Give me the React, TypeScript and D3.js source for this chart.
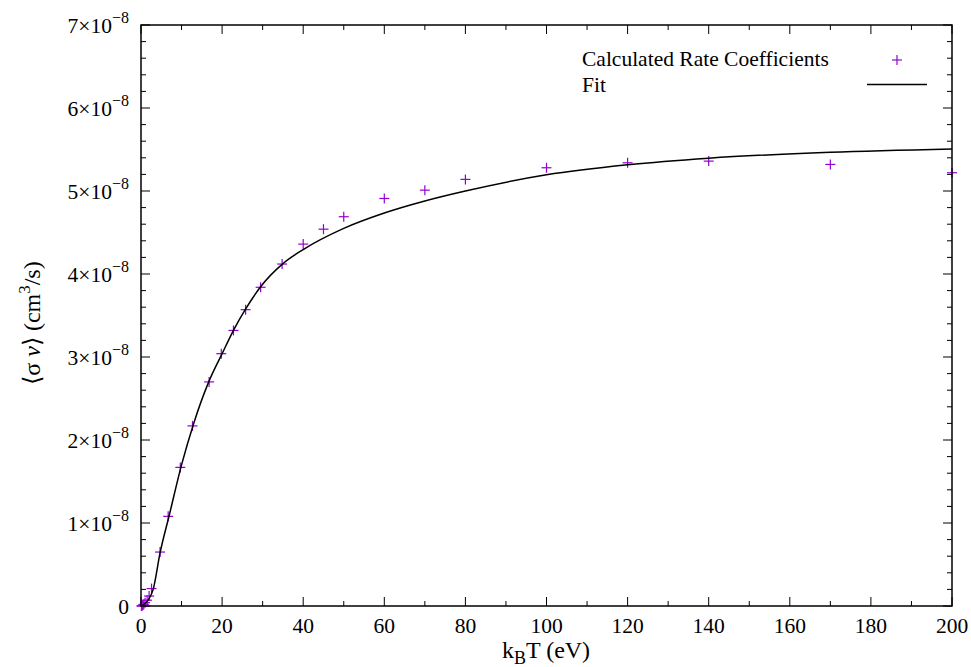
import React from "react";
import * as d3 from "d3";

// Calculated rate coefficients (k_B T in eV, <σv> in units of 1e-8 cm^3/s)
const pointT = [0.1, 0.2, 0.3, 0.5, 0.7, 1, 1.5, 2, 2.6, 4.7, 6.7, 9.7, 12.7, 16.8, 19.8, 22.8, 25.8, 29.5, 34.8, 40, 45, 50, 60, 70, 80, 100, 120, 140, 170, 200];
const pointV = [0.0, 0.002, 0.005, 0.012, 0.02, 0.04, 0.07, 0.12, 0.21, 0.65, 1.08, 1.67, 2.17, 2.7, 3.04, 3.32, 3.57, 3.84, 4.12, 4.36, 4.54, 4.69, 4.91, 5.01, 5.14, 5.28, 5.34, 5.36, 5.32, 5.22];

// Fit curve
const fitT = [0, 1, 2, 3, 4.7, 7, 10, 13, 16.7, 20, 22.9, 25.7, 29.4, 35, 40, 50, 60, 70, 80, 100, 120, 140, 170, 200];
const fitV = [0, 0.03, 0.09, 0.2, 0.64, 1.1, 1.7, 2.2, 2.7, 3.04, 3.33, 3.57, 3.84, 4.125, 4.295, 4.55, 4.735, 4.88, 5.0, 5.195, 5.316, 5.396, 5.466, 5.506];

const xMajor = [0, 20, 40, 60, 80, 100, 120, 140, 160, 180, 200];
const xMinor = [10, 30, 50, 70, 90, 110, 130, 150, 170, 190];
const yMajor = [0, 1, 2, 3, 4, 5, 6, 7];
const yMinor = d3.range(0, 7.01, 0.2).filter((v) => Math.abs(v - Math.round(v)) > 1e-6);

const legendLabels = ["Calculated Rate Coefficients", "Fit"];
const pointColor = "#9400d3";
const FAM = "Liberation Serif";

export default function App() {
  const left = 141, right = 952, top = 25, bottom = 606;
  const x = d3.scaleLinear().domain([0, 200]).range([left, right]);
  const y = d3.scaleLinear().domain([0, 7]).range([bottom, top]);

  const fitData = fitT.map((t, i) => [t, fitV[i]] as [number, number]);
  const line = d3
    .line<[number, number]>()
    .x((d) => x(d[0]))
    .y((d) => y(d[1]))
    .curve(d3.curveMonotoneX);

  const plus = (cx: number, cy: number, k: string) => (
    <g key={k} stroke={pointColor} strokeWidth={1.2}>
      <line x1={cx - 5} x2={cx + 5} y1={cy} y2={cy} />
      <line x1={cx} x2={cx} y1={cy - 5} y2={cy + 5} />
    </g>
  );

  const st = (size: number) => ({ fontFamily: `"${FAM}"`, fontSize: size });

  return (
    <svg width={971} height={667} style={{ position: "absolute", left: 0, top: 0 }} fontFamily={FAM}>
      <style>{`text, tspan { font-family: "Liberation Serif" !important; }`}</style>
      <rect x={0} y={0} width={971} height={667} fill="#fff" />
      {/* ticks */}
      <g stroke="#000" strokeWidth={1}>
        {xMajor.map((t) => (
          <g key={"xM" + t}>
            <line x1={x(t)} x2={x(t)} y1={bottom} y2={bottom - 9} />
            <line x1={x(t)} x2={x(t)} y1={top} y2={top + 9} />
          </g>
        ))}
        {xMinor.map((t) => (
          <g key={"xm" + t}>
            <line x1={x(t)} x2={x(t)} y1={bottom} y2={bottom - 5} />
            <line x1={x(t)} x2={x(t)} y1={top} y2={top + 5} />
          </g>
        ))}
        {yMajor.map((t) => (
          <g key={"yM" + t}>
            <line x1={left} x2={left + 9} y1={y(t)} y2={y(t)} />
            <line x1={right} x2={right - 9} y1={y(t)} y2={y(t)} />
          </g>
        ))}
        {yMinor.map((t, i) => (
          <g key={"ym" + i}>
            <line x1={left} x2={left + 5} y1={y(t)} y2={y(t)} />
            <line x1={right} x2={right - 5} y1={y(t)} y2={y(t)} />
          </g>
        ))}
      </g>
      {/* tick labels */}
      {xMajor.map((t) => (
        <text key={"xl" + t} x={x(t)} y={bottom + 27} textAnchor="middle" fontFamily={FAM} style={st(21.5)}>
          {t}
        </text>
      ))}
      {yMajor.map((t) =>
        t === 0 ? (
          <text key={"yl" + t} x={129} y={y(t) + 8} textAnchor="end" fontFamily={FAM} style={st(21.5)}>
            0
          </text>
        ) : (
          <text key={"yl" + t} x={129} y={y(t) + 8} textAnchor="end" fontFamily={FAM} style={st(21.5)}>
            {`${t}×10`}
            <tspan dy={-10.5} style={st(16)}>
              −8
            </tspan>
          </text>
        )
      )}
      {/* points */}
      <g>{pointT.map((t, i) => plus(x(t), y(pointV[i]), "p" + i))}</g>
      {/* fit line */}
      <path d={line(fitData) || ""} fill="none" stroke="#000" strokeWidth={1.5} />
      {/* frame */}
      <rect x={left} y={top} width={right - left} height={bottom - top} fill="none" stroke="#000" strokeWidth={1.5} />
      {/* legend */}
      <text x={582} y={66} fontFamily={FAM} style={st(21.5)}>{legendLabels[0]}</text>
      <text x={582} y={92} fontFamily={FAM} style={st(21.5)}>{legendLabels[1]}</text>
      {plus(897, 60, "leg")}
      <line x1={867} x2={927} y1={84.5} y2={84.5} stroke="#000" strokeWidth={1.5} />
      {/* axis labels */}
      <text x={546} y={658} textAnchor="middle" fontFamily={FAM} style={st(24)}>
        k<tspan dy={6} style={st(18)}>B</tspan>
        <tspan dy={-6}>T (eV)</tspan>
      </text>
      <text transform="translate(40,323) rotate(-90)" textAnchor="middle" fontFamily={FAM} style={st(24)}>
        ⟨σ <tspan style={{ ...st(24), fontStyle: "italic" }}>v</tspan>⟩ (cm
        <tspan dy={-10} style={st(17)}>3</tspan>
        <tspan dy={10}>/s)</tspan>
      </text>
    </svg>
  );
}
